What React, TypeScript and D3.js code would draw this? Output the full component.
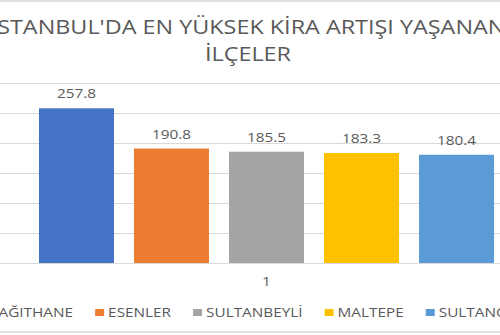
import React, { useEffect, useRef } from "react";
import * as d3 from "d3";

const categories = ["1"];
const seriesNames = ["KAĞITHANE", "ESENLER", "SULTANBEYLİ", "MALTEPE", "SULTANGAZİ"];
const seriesValues = [257.8, 190.8, 185.5, 183.3, 180.4];
const seriesColors = ["#4472C4", "#ED7D31", "#A5A5A5", "#FFC000", "#5B9BD5"];
const yTicks = [0, 50, 100, 150, 200, 250, 300];
const titleLines = ["İSTANBUL'DA EN YÜKSEK KİRA ARTIŞI YAŞANAN", "İLÇELER"];

const W = 500;
const H = 335;
const FONT = "'Open Sans', sans-serif";
const TXT = "#595959";
const SX = 1.15;
const TSX = 1.2;

export default function App() {
  const ref = useRef<SVGSVGElement>(null);

  useEffect(() => {
    const svg = d3.select(ref.current!);
    svg.selectAll("*").remove();

    // borders
    svg.append("line").attr("x1", 0).attr("x2", W).attr("y1", 1).attr("y2", 1)
      .attr("stroke", "#D9D9D9").attr("stroke-width", 1.5);
    svg.append("line").attr("x1", 0).attr("x2", W).attr("y1", 332).attr("y2", 332)
      .attr("stroke", "#D9D9D9").attr("stroke-width", 1.5);

    const y = d3.scaleLinear().domain([0, 300]).range([263, 83]);
    const x0 = d3.scaleBand<string>().domain(categories).range([29, 504]).padding(0);
    const x1 = d3.scaleBand<string>().domain(seriesNames)
      .range([0, x0.bandwidth()]).paddingInner(0.2105).paddingOuter(0.105);

    // gridlines
    svg.append("g").selectAll("line").data(yTicks).join("line")
      .attr("x1", 0).attr("x2", W)
      .attr("y1", (d) => Math.round(y(d)) + 0.5).attr("y2", (d) => Math.round(y(d)) + 0.5)
      .attr("stroke", "#D9D9D9").attr("stroke-width", 1);

    // title
    titleLines.forEach((t, i) => {
      svg.append("text")
        .attr("transform", `translate(248,${34 + i * 27}) scale(${TSX},1)`)
        .attr("text-anchor", "middle")
        .attr("font-family", FONT).attr("font-size", 19.5).attr("fill", TXT)
        .text(t);
    });

    // bars
    categories.forEach((c) => {
      const g = svg.append("g").attr("transform", `translate(${x0(c)},0)`);
      g.selectAll("rect").data(seriesValues).join("rect")
        .attr("x", (_d, i) => x1(seriesNames[i])!)
        .attr("width", x1.bandwidth())
        .attr("y", (d) => y(d))
        .attr("height", (d) => y(0) - y(d))
        .attr("fill", (_d, i) => seriesColors[i]);
      g.selectAll("text").data(seriesValues).join("text")
        .attr("transform", (d, i) =>
          `translate(${x1(seriesNames[i])! + x1.bandwidth() / 2},${y(d) - 10}) scale(${SX},1)`)
        .attr("text-anchor", "middle")
        .attr("font-family", FONT).attr("font-size", 13.33).attr("fill", TXT)
        .text((d) => d.toFixed(1));
      svg.append("text")
        .attr("transform", `translate(${x0(c)! + x0.bandwidth() / 2},286) scale(${SX},1)`)
        .attr("text-anchor", "middle")
        .attr("font-family", FONT).attr("font-size", 13.33).attr("fill", TXT)
        .text(c);
    });

    // legend
    const lg = svg.append("g");
    const sq = 9;
    const gapSq = 4;
    const gapItem = 22;
    let cx = 0;
    seriesNames.forEach((n, i) => {
      const item = lg.append("g").attr("transform", `translate(${cx},0)`);
      item.append("rect").attr("x", 0).attr("y", 309).attr("width", sq).attr("height", 7)
        .attr("fill", seriesColors[i]);
      const t = item.append("text")
        .attr("transform", `translate(${sq + gapSq},317) scale(${SX},1)`)
        .attr("font-family", FONT).attr("font-size", 13.33).attr("fill", TXT)
        .text(n);
      const w = (t.node() as SVGTextElement).getComputedTextLength() * SX;
      cx += sq + gapSq + w + gapItem;
    });
    const total = cx - gapItem;
    lg.attr("transform", `translate(${253 - total / 2},0)`);
  }, []);

  return (
    <svg ref={ref} width={W} height={H}
      style={{ position: "absolute", left: 0, top: 0, background: "#fff" }} />
  );
}
